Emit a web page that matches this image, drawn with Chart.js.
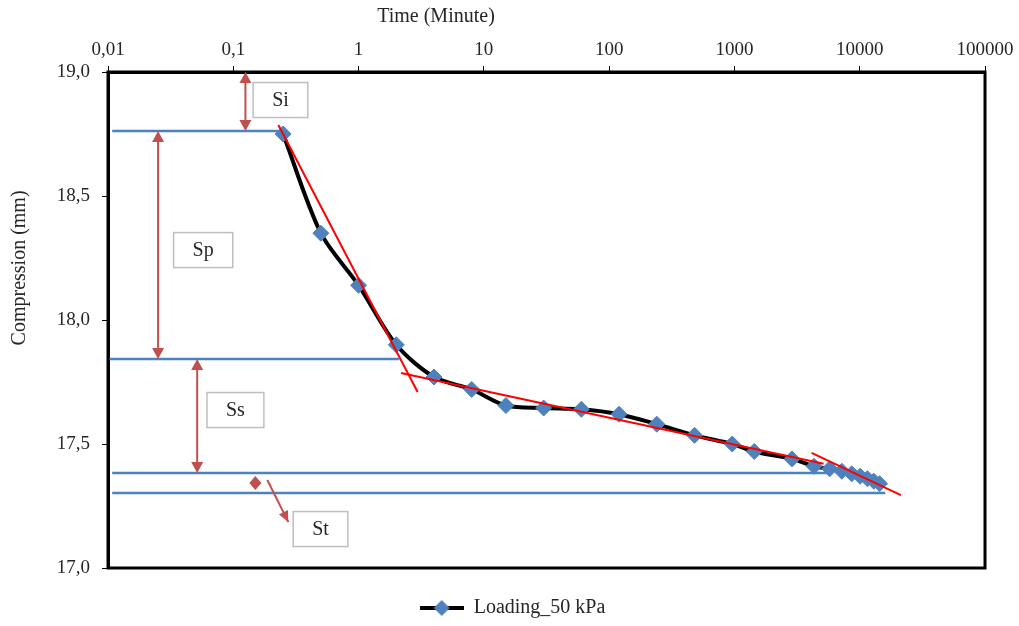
<!DOCTYPE html>
<html>
<head>
<meta charset="utf-8">
<script src="https://cdn.jsdelivr.net/npm/chart.js@4.4.0/dist/chart.umd.min.js"></script>
<style>
  body { margin: 0; background: #fff; }
  #wrap { width: 1019px; height: 626px; }
</style>
</head>
<body>
<div id="wrap"><canvas id="chart" width="1019" height="626"></canvas></div>
<script>
// readings of the loading curve (time in minutes, compression in mm)
const times = [0.25, 0.5, 1, 2, 4, 8, 15, 30, 60, 120, 240, 480, 960, 1440, 2880, 4320, 5760, 7200, 8640, 10080, 11520, 12960, 14400];
const compression = [18.75, 18.35, 18.14, 17.9, 17.77, 17.72, 17.655, 17.645, 17.64, 17.62, 17.58, 17.535, 17.5, 17.47, 17.44, 17.41, 17.4, 17.39, 17.38, 17.37, 17.36, 17.35, 17.34];

const timeTicks = [0.01, 0.1, 1, 10, 100, 1000, 10000, 100000];
const timeTickLabels = ["0,01", "0,1", "1", "10", "100", "1000", "10000", "100000"];
const compressionTicks = [17.0, 17.5, 18.0, 18.5, 19.0];
const compressionTickLabels = ["17,0", "17,5", "18,0", "18,5", "19,0"];

// tangents drawn on the curve
const tangentTimes = [[0.229, 2.96], [2.18, 5150], [4130, 21300]];
const tangentValues = [[18.786, 17.71], [17.786, 17.42], [17.464, 17.294]];

// horizontal levels
const levelValues = [18.762, 17.843, 17.383, 17.302];
const levelStartTimes = [0.0108, 0.01, 0.0108, 0.0108];
const levelEndTimes = [0.25, 2.1, 5600, 16000];

// settlement parts
const partNames = ["Si", "Sp", "Ss", "St"];
const partLabelTimes = [0.238, 0.0575, 0.104, 0.497];
const partLabelValues = [18.887, 18.282, 17.637, 17.157];
const arrowTimes = [0.125, 0.0251, 0.0515, 0.15];
const arrowFrom = [19.0, 18.762, 17.843, 17.371];
const arrowTo = [18.762, 17.843, 17.383, 17.315];
const pointerTimes = [0.187, 0.275];
const pointerValues = [17.355, 17.185];

const BLUE = "#4f81bd";
const RED = "#ff0000";
const ARROW = "#c0504d";
const TEXT = "#262626";
const SERIF = "'Liberation Serif', 'Times New Roman', serif";

function pairs(xs, ys) {
  return xs.map((x, i) => ({ x: x, y: ys[i] }));
}

function arrowHead(ctx, x1, y1, x2, y2, len, half) {
  const a = Math.atan2(y2 - y1, x2 - x1);
  const c = Math.cos(a), s = Math.sin(a);
  ctx.beginPath();
  ctx.moveTo(x2, y2);
  ctx.lineTo(x2 - len * c + half * s, y2 - len * s - half * c);
  ctx.lineTo(x2 - len * c - half * s, y2 - len * s + half * c);
  ctx.closePath();
  ctx.fill();
}

// legend marker: black line with a blue diamond
const legendMark = document.createElement("canvas");
legendMark.width = 44;
legendMark.height = 18;
(function () {
  const c = legendMark.getContext("2d");
  c.strokeStyle = "#000";
  c.lineWidth = 4;
  c.beginPath();
  c.moveTo(0, 9);
  c.lineTo(44, 9);
  c.stroke();
  c.fillStyle = BLUE;
  c.beginPath();
  c.moveTo(22, 1);
  c.lineTo(30, 9);
  c.lineTo(22, 17);
  c.lineTo(14, 9);
  c.closePath();
  c.fill();
})();

const overlay = {
  id: "overlay",
  afterLayout(chart) {
    // nudge the legend to where the original sits
    const lg = chart.legend;
    lg.left += 20;
    lg.right += 20;
    lg.top += 2;
    lg.bottom += 2;
  },
  afterDatasetsDraw(chart) {
    const { ctx, chartArea: a, scales: { x, y } } = chart;
    ctx.save();
    ctx.strokeStyle = "#000";
    ctx.lineWidth = 3;
    ctx.strokeRect(a.left, a.top, a.right - a.left, a.bottom - a.top);

    // double arrows
    ctx.strokeStyle = ARROW;
    ctx.fillStyle = ARROW;
    ctx.lineWidth = 2;
    arrowTimes.forEach((t, i) => {
      const px = x.getPixelForValue(t);
      const y1 = y.getPixelForValue(arrowFrom[i]);
      const y2 = y.getPixelForValue(arrowTo[i]);
      const len = Math.min(11, (y2 - y1) / 2);
      ctx.beginPath();
      ctx.moveTo(px, y1 + len);
      ctx.lineTo(px, y2 - len);
      ctx.stroke();
      arrowHead(ctx, px, y2, px, y1, len, 6);
      arrowHead(ctx, px, y1, px, y2, len, 6);
    });
    const p1x = x.getPixelForValue(pointerTimes[0]), p1y = y.getPixelForValue(pointerValues[0]);
    const p2x = x.getPixelForValue(pointerTimes[1]), p2y = y.getPixelForValue(pointerValues[1]);
    ctx.beginPath();
    ctx.moveTo(p1x, p1y);
    ctx.lineTo(p2x, p2y);
    ctx.stroke();
    arrowHead(ctx, p1x, p1y, p2x, p2y, 11, 5);

    // labelled boxes
    ctx.font = "20px " + SERIF;
    ctx.textAlign = "center";
    ctx.textBaseline = "middle";
    partNames.forEach((name, i) => {
      const cx = x.getPixelForValue(partLabelTimes[i]);
      const cy = y.getPixelForValue(partLabelValues[i]);
      const w = ctx.measureText(name).width + 38;
      const h = 35;
      ctx.fillStyle = "#fff";
      ctx.fillRect(cx - w / 2, cy - h / 2, w, h);
      ctx.strokeStyle = "#bfbfbf";
      ctx.lineWidth = 1.5;
      ctx.strokeRect(cx - w / 2, cy - h / 2, w, h);
      ctx.fillStyle = TEXT;
      ctx.fillText(name, cx, cy + 1);
    });
    ctx.restore();
  },
  afterDraw(chart) {
    const { ctx, chartArea: a } = chart;
    ctx.save();
    ctx.fillStyle = TEXT;
    ctx.font = "20px " + SERIF;
    ctx.textAlign = "center";
    ctx.textBaseline = "middle";
    ctx.fillText("Time (Minute)", a.left + 0.374 * (a.right - a.left), 17);
    ctx.translate(20, a.top + 0.395 * (a.bottom - a.top));
    ctx.rotate(-Math.PI / 2);
    ctx.fillText("Compression (mm)", 0, 0);
    ctx.restore();
  }
};

const datasets = [
  {
    label: "Loading_50 kPa",
    data: pairs(times, compression),
    showLine: true,
    borderColor: "#000",
    borderWidth: 4,
    tension: 0.3,
    pointStyle: "rectRot",
    pointRadius: 8,
    pointBackgroundColor: BLUE,
    pointBorderColor: BLUE,
    pointBorderWidth: 1,
    order: 2
  }
];
tangentTimes.forEach((ts, i) => {
  datasets.push({
    label: "tangent",
    data: pairs(ts, tangentValues[i]),
    showLine: true,
    borderColor: RED,
    borderWidth: 2,
    pointRadius: 0,
    order: 1
  });
});
levelValues.forEach((v, i) => {
  datasets.push({
    label: "level",
    data: pairs([levelStartTimes[i], levelEndTimes[i]], [v, v]),
    showLine: true,
    borderColor: BLUE,
    borderWidth: 2.5,
    pointRadius: 0,
    order: 3
  });
});

new Chart(document.getElementById("chart"), {
  type: "scatter",
  data: { datasets: datasets },
  plugins: [overlay],
  options: {
    responsive: false,
    animation: false,
    layout: { padding: { left: 0, right: 34, top: 0, bottom: 0 } },
    plugins: {
      tooltip: { enabled: false },
      legend: {
        position: "bottom",
        labels: {
          usePointStyle: true,
          pointStyleWidth: 44,
          generateLabels: () => [{
            text: "Loading_50 kPa",
            pointStyle: legendMark,
            fontColor: TEXT,
            datasetIndex: 0,
            lineWidth: 0
          }],
          color: TEXT,
          padding: 28,
          font: { family: SERIF, size: 20 }
        }
      }
    },
    scales: {
      x: {
        type: "logarithmic",
        position: "top",
        min: 0.01,
        max: 100000,
        afterBuildTicks: (scale) => {
          scale.ticks = timeTicks.map((v) => ({ value: v }));
        },
        afterFit: (scale) => { scale.height = 72; },
        ticks: {
          callback: (v, i) => timeTickLabels[i],
          color: TEXT,
          padding: 5,
          maxRotation: 0,
          autoSkip: false,
          font: { family: SERIF, size: 19 }
        },
        grid: { drawOnChartArea: false, tickLength: 6, color: "#000", tickWidth: 1 },
        border: { display: true, color: "#000", width: 3 }
      },
      y: {
        min: 17,
        max: 19,
        afterBuildTicks: (scale) => {
          scale.ticks = compressionTicks.map((v) => ({ value: v }));
        },
        afterFit: (scale) => { scale.width = 108; },
        ticks: {
          callback: (v, i) => compressionTickLabels[i],
          color: TEXT,
          padding: 12,
          font: { family: SERIF, size: 19 }
        },
        grid: { drawOnChartArea: false, tickLength: 6, color: "#000", tickWidth: 1 },
        border: { display: true, color: "#000", width: 3 }
      }
    }
  }
});
</script>
</body>
</html>
